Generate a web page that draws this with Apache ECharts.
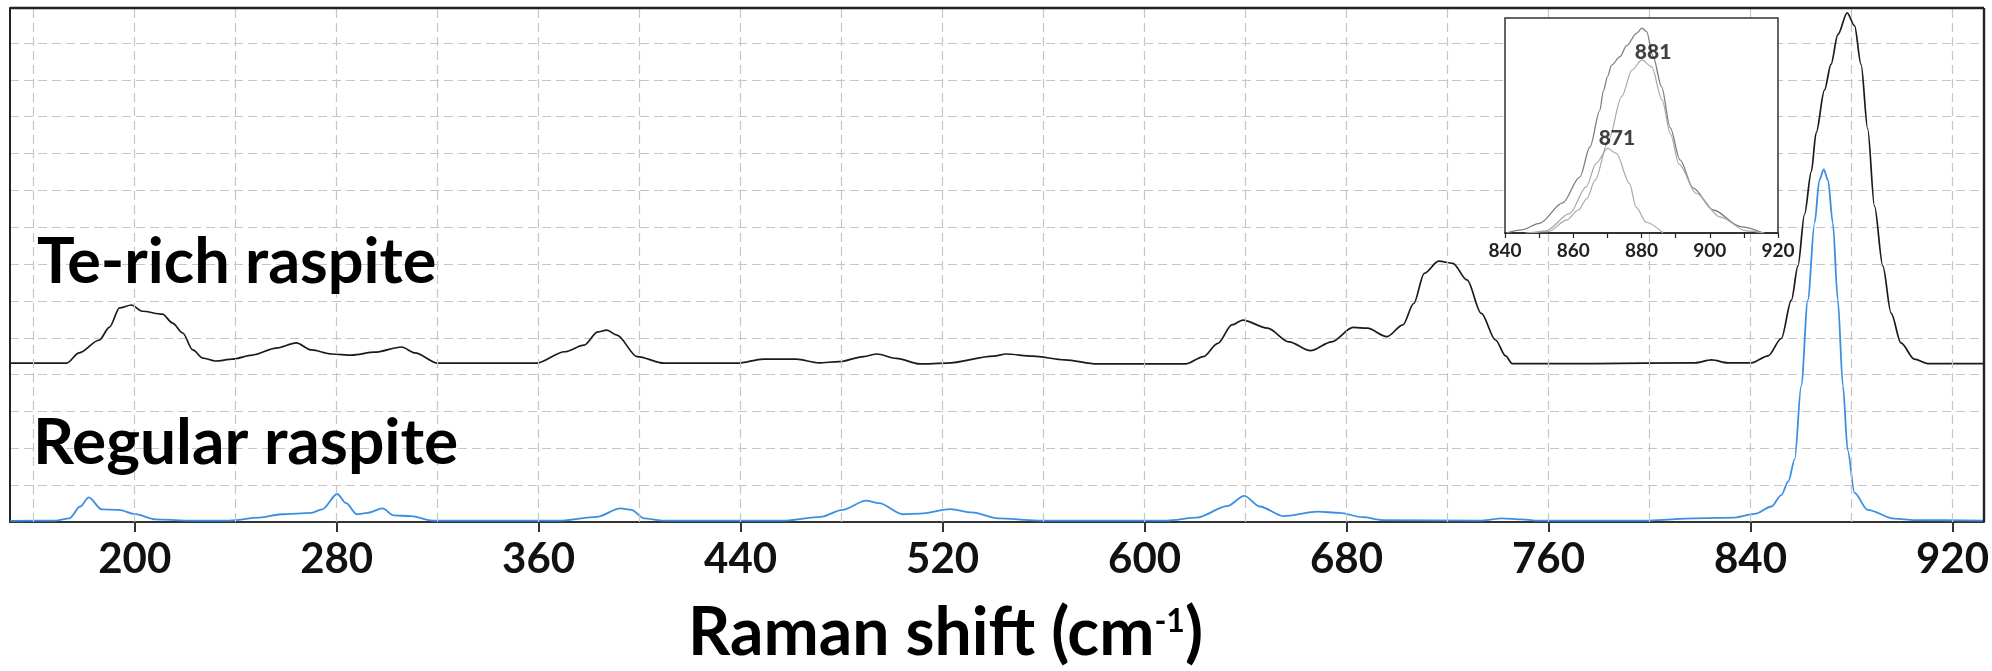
<!DOCTYPE html>
<html>
<head>
<meta charset="utf-8">
<script src="https://cdn.jsdelivr.net/npm/echarts@6.0.0/dist/echarts.min.js"></script>
<style>
  html, body { margin: 0; padding: 0; background: #fff; }
  #chart { width: 1992px; height: 671px; }
</style>
</head>
<body>
<div id="chart"></div>
<script>
// Te-rich raspite spectrum (offset upward)
const teShift = [150.7, 160, 173, 178, 186, 190, 194, 198.7, 203, 211, 215, 219, 223, 227, 232, 238.7, 246.6, 256, 264, 270,
  278, 286, 295, 305.7, 311, 320, 344, 359, 370.3, 378, 383.4, 387, 391, 399, 409.7, 438.7, 449, 462, 471, 479,
  488.7, 494, 501.7, 510.9, 521.8, 540.2, 545.1, 555.7, 568.4, 581.1, 616.3, 623.3, 629, 634.6, 638.9, 648.7, 657.2, 665.7, 674.1, 682.6,
  688.2, 696, 702.3, 706.6, 710.8, 716.5, 722.1, 727.7, 733.4, 739, 743, 745.6, 778.5, 818, 824.6, 831, 840.4, 847, 852.2, 856.2,
  858.8, 861.4, 864.1, 866, 869.3, 871.9, 874.6, 878.3, 881.2, 883.8, 886.4, 889.1, 892.4, 895.7, 899.6, 904.9, 910.1, 932.5];
const teIntensity = [4.31, 4.31, 4.31, 4.59, 4.94, 5.29, 5.81, 5.89, 5.72, 5.64, 5.40, 5.13, 4.67, 4.45, 4.37, 4.42, 4.53, 4.72, 4.86, 4.67,
  4.56, 4.53, 4.61, 4.75, 4.59, 4.31, 4.31, 4.31, 4.62, 4.80, 5.16, 5.21, 5.07, 4.49, 4.31, 4.31, 4.42, 4.42, 4.32, 4.35,
  4.49, 4.56, 4.44, 4.29, 4.31, 4.50, 4.56, 4.50, 4.40, 4.29, 4.29, 4.49, 4.85, 5.35, 5.48, 5.26, 4.89, 4.65, 4.89, 5.28,
  5.26, 5.03, 5.35, 5.93, 6.75, 7.08, 7.02, 6.57, 5.66, 4.94, 4.51, 4.30, 4.30, 4.32, 4.40, 4.32, 4.32, 4.51, 4.98, 6.02,
  6.95, 8.35, 9.51, 10.56, 11.72, 12.42, 13.23, 13.82, 13.47, 12.42, 10.68, 8.58, 6.95, 5.67, 4.86, 4.42, 4.30, 4.30];

// Regular raspite spectrum
const regShift = [150.7, 169, 174.1, 178.4, 181.8, 186.9, 193.8, 199.8, 208.3, 220.3, 237.4, 249.4, 258, 270, 274.2, 280.2, 283.7, 288, 292.2, 298.2,
  302.5, 309.4, 318, 369.3, 383, 392.4, 396.7, 401.8, 408.7, 458, 471.7, 480.3, 489.7, 494.8, 504.3, 511.1, 523.1, 531.7, 542, 557.4,
  608.7, 620.7, 632.7, 639.5, 645.6, 655, 668.6, 677.2, 686.4, 694.3, 733.7, 741.6, 749.6, 754.8, 799.6, 818, 833.8, 841.7, 848.3, 852.2,
  855, 857.5, 860.1, 862.7, 865.4, 867.3, 869, 870.7, 872.6, 874.6, 876.6, 878.5, 881.2, 886.4, 897, 905, 932.5];
const regIntensity = [0.03, 0.04, 0.10, 0.42, 0.67, 0.34, 0.33, 0.22, 0.07, 0.04, 0.04, 0.12, 0.21, 0.25, 0.34, 0.76, 0.51, 0.21, 0.25, 0.37,
  0.18, 0.16, 0.04, 0.04, 0.14, 0.37, 0.33, 0.10, 0.04, 0.04, 0.14, 0.33, 0.58, 0.51, 0.21, 0.23, 0.35, 0.26, 0.10, 0.04,
  0.04, 0.12, 0.43, 0.71, 0.42, 0.16, 0.28, 0.25, 0.13, 0.05, 0.04, 0.10, 0.07, 0.04, 0.04, 0.10, 0.12, 0.22, 0.42, 0.73,
  1.10, 1.70, 3.70, 6.02, 8.12, 9.28, 9.57, 9.28, 8.12, 6.02, 3.70, 1.95, 0.79, 0.33, 0.09, 0.05, 0.04];

// inset: measured band and two fitted components
const insetShift = [840.4, 845, 850.1, 856.9, 861.9, 864.9, 867.8, 868.8, 870.1, 871.2, 873.7, 875.6, 878.6, 880.1, 881.5, 883.4, 885.9, 888.4, 891.3, 895.1, 901, 909, 915.7];
const insetEnvelope = [0, 0.015, 0.045, 0.14, 0.26, 0.40, 0.57, 0.66, 0.73, 0.78, 0.82, 0.87, 0.93, 0.953, 0.937, 0.82, 0.68, 0.49, 0.34, 0.21, 0.107, 0.03, 0];
const fit881Shift = [846, 852.7, 858, 861.5, 864, 866.4, 870.3, 874.2, 877.2, 880.1, 883, 886, 888.5, 891, 896, 903, 910.7, 916];
const fit881 = [0, 0.006, 0.06, 0.107, 0.16, 0.246, 0.43, 0.634, 0.758, 0.805, 0.773, 0.62, 0.46, 0.32, 0.185, 0.075, 0.01, 0];
const fit871Shift = [848, 852, 858.9, 863.8, 866.7, 870.1, 872.6, 876.5, 878.4, 881.4, 886.3];
const fit871 = [0, 0.01, 0.09, 0.215, 0.324, 0.394, 0.37, 0.23, 0.12, 0.05, 0];
const peakNames = ['881', '871'];
const peakPos = [[883.4, 0.84], [872.8, 0.44]];

// axes
const xRange = [150.6, 932.5];
const yRange = [0, 13.95];
const xTicks = [200, 280, 360, 440, 520, 600, 680, 760, 840, 920];
const xGrid = [160, 200, 240, 280, 320, 360, 400, 440, 480, 520, 560, 600, 640, 680, 720, 760, 800, 840, 880, 920];
const insetTicks = [840, 860, 880, 900, 920];

const zip = (xs, ys) => xs.map((x, i) => [x, ys[i]]);
const gridLine = { color: '#c6c6c6', width: 1.2, type: [9, 5] };
const frameLine = { color: '#222', width: 2.4, type: 'solid' };
const FONT = 'Lato, "Open Sans", sans-serif';

const chart = echarts.init(document.getElementById('chart'), null, { renderer: 'canvas' });
chart.setOption({
  animation: false,
  backgroundColor: '#fff',
  grid: [
    { left: 10, right: 2, top: 8, bottom: 149 },
    { left: 1505, top: 18, width: 273, height: 215, show: true, backgroundColor: '#fff', borderColor: '#333', borderWidth: 1.5, z: 10 }
  ],
  xAxis: [
    {
      type: 'value', gridIndex: 0, min: xRange[0], max: xRange[1],
      splitLine: { show: false },
      axisLine: { show: true, onZero: false, lineStyle: { color: '#333', width: 2 } },
      axisTick: { show: true, customValues: xTicks, length: 10, inside: false, lineStyle: { color: '#333', width: 2 } },
      axisLabel: { customValues: xTicks, margin: 16, color: '#111', fontSize: 42, fontWeight: 'bold', fontFamily: FONT }
    },
    {
      type: 'value', gridIndex: 1, min: 840, max: 920, interval: 10, z: 11,
      splitLine: { show: false },
      axisLine: { show: true, lineStyle: { color: '#222', width: 1.5 } },
      axisTick: { show: true, length: 5, lineStyle: { color: '#222', width: 1.2 } },
      axisLabel: {
        margin: 8, color: '#222', fontSize: 19, fontWeight: 'bold', fontFamily: FONT,
        formatter: v => (insetTicks.indexOf(v) >= 0 ? String(v) : '')
      }
    }
  ],
  yAxis: [
    {
      type: 'value', gridIndex: 0, min: yRange[0], max: yRange[1], interval: 1,
      axisLine: { show: true, onZero: false, lineStyle: { color: '#222', width: 2 } },
      axisTick: { show: false }, axisLabel: { show: false },
      splitLine: { show: true, showMinLine: false, showMaxLine: false, lineStyle: gridLine }
    },
    {
      type: 'value', gridIndex: 1, min: 0, max: 1, z: 11,
      axisLine: { show: false }, axisTick: { show: false }, axisLabel: { show: false },
      splitLine: { show: false }
    }
  ],
  series: [
    {
      name: 'Te-rich raspite', type: 'line', xAxisIndex: 0, yAxisIndex: 0,
      data: zip(teShift, teIntensity), showSymbol: false, smooth: 0.3, smoothMonotone: 'x',
      lineStyle: { color: '#1a1a1a', width: 1.7 },
      markLine: {
        silent: true, symbol: ['none', 'none'], label: { show: false },
        lineStyle: gridLine, emphasis: { disabled: true },
        data: xGrid.map(v => ({ xAxis: v })).concat([
          { yAxis: yRange[1], lineStyle: frameLine },
          { xAxis: xRange[1], lineStyle: frameLine }
        ])
      },
      z: 3
    },
    {
      name: 'Regular raspite', type: 'line', xAxisIndex: 0, yAxisIndex: 0,
      data: zip(regShift, regIntensity), showSymbol: false, smooth: 0.3, smoothMonotone: 'x',
      lineStyle: { color: '#3b8fe3', width: 1.8 }, z: 3
    },
    {
      type: 'line', xAxisIndex: 1, yAxisIndex: 1, data: zip(insetShift, insetEnvelope),
      showSymbol: false, smooth: 0.3, smoothMonotone: 'x', lineStyle: { color: '#7d7d7d', width: 1.3 }, z: 12
    },
    {
      type: 'line', xAxisIndex: 1, yAxisIndex: 1, data: zip(fit881Shift, fit881),
      showSymbol: false, smooth: 0.3, smoothMonotone: 'x', lineStyle: { color: '#a8a8a8', width: 1.2 }, z: 12
    },
    {
      type: 'line', xAxisIndex: 1, yAxisIndex: 1, data: zip(fit871Shift, fit871),
      showSymbol: false, smooth: 0.3, smoothMonotone: 'x', lineStyle: { color: '#a8a8a8', width: 1.2 }, z: 12
    },
    {
      type: 'scatter', xAxisIndex: 1, yAxisIndex: 1, symbolSize: 0, z: 13,
      data: peakPos.map((p, i) => ({ value: p, name: peakNames[i] })),
      label: {
        show: true, position: 'inside', formatter: p => p.name,
        color: '#111', fontSize: 21, fontWeight: 900, fontFamily: FONT
      }
    }
  ],
  graphic: [
    {
      type: 'text', left: 37, top: 231, z: 20,
      style: { text: 'Te-rich raspite', fill: '#000', font: 'bold 63px ' + FONT }
    },
    {
      type: 'text', left: 33, top: 411, z: 20,
      style: { text: 'Regular raspite', fill: '#000', font: 'bold 64px ' + FONT }
    },
    {
      type: 'text', left: 688, top: 601, z: 20,
      style: {
        text: '{a|Raman shift (cm}{b|-1}{a|)}',
        rich: {
          a: { fontSize: 66, fontWeight: 'bold', fontFamily: FONT, fill: '#000', color: '#000' },
          b: { fontSize: 32, fontWeight: 'bold', fontFamily: FONT, fill: '#000', color: '#000', verticalAlign: 'top', padding: [5, 0, 0, 0] }
        }
      }
    }
  ]
});
</script>
</body>
</html>
